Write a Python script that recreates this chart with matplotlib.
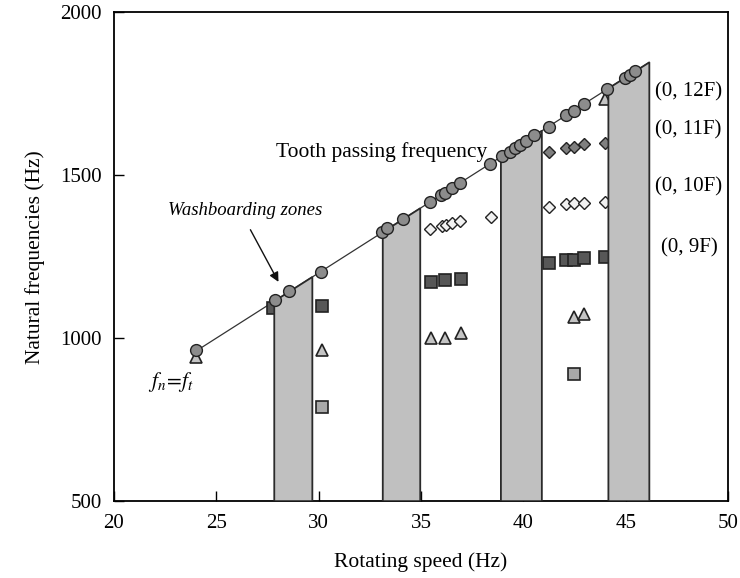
import matplotlib
matplotlib.use("Agg")
import matplotlib.pyplot as plt
from matplotlib.patches import Polygon

plt.rcParams['font.family'] = ['Liberation Serif', 'DejaVu Serif']
plt.rcParams['mathtext.fontset'] = 'stix'

# tooth passing frequency line (Hz vs Hz)
line_speed = [24.0, 46.15]
line_freq = [960, 1846]

# washboarding zones: speed ranges, bounded above by the tooth passing line
zone_start = [27.83, 33.13, 38.9, 44.15]
zone_end = [29.69, 34.96, 40.9, 46.15]
teeth = 40

# natural frequencies coinciding with the tooth passing frequency
circ_x = [24.03, 27.85, 28.55, 30.11, 33.08, 33.33, 34.14, 35.45, 35.95, 36.15, 36.5, 36.91,
          38.36, 38.97, 39.32, 39.57, 39.82, 40.13, 40.53, 41.23, 42.09, 42.49, 42.94,
          44.1, 44.96, 45.21, 45.46]
circ_y = [965, 1116, 1145, 1204, 1327, 1338, 1366, 1418, 1438, 1446, 1461, 1477,
          1534, 1559, 1572, 1583, 1593, 1605, 1622, 1649, 1683, 1698, 1717,
          1763, 1797, 1808, 1818]

# (0, 11F) family
dia_dark_x = [41.23, 42.09, 42.49, 42.94, 43.97]
dia_dark_y = [1571, 1582, 1585, 1594, 1600]

# (0, 10F) family
dia_light_x = [35.45, 36.0, 36.2, 36.5, 36.91, 38.4, 41.27, 42.09, 42.49, 42.94, 43.97]
dia_light_y = [1336, 1345, 1347, 1352, 1359, 1372, 1401, 1410, 1413, 1413, 1418]

# (0, 9F) family
sq_dark_x = [27.75, 30.14, 35.49, 36.17, 36.95, 41.27, 42.09, 42.49, 42.97, 43.97]
sq_dark_y = [1093, 1099, 1173, 1178, 1181, 1231, 1239, 1239, 1245, 1250]

tri_x = [24.03, 30.14, 35.49, 36.17, 36.93, 42.49, 42.97, 43.97]
tri_y = [943, 963, 999, 999, 1015, 1064, 1074, 1735]

sq_light_x = [30.14, 42.49]
sq_light_y = [789, 890]

family_labels = ['(0, 12F)', '(0, 11F)', '(0, 10F)', '(0, 9F)']
family_label_x = [46.45, 46.45, 46.45, 46.7]
family_label_y = [1755, 1640, 1463, 1278]

fig = plt.figure(figsize=(7.4, 5.78), dpi=100)
ax = fig.add_axes([0.154, 0.133, 0.830, 0.846])

ax.plot(line_speed, line_freq, color='#333333', lw=0.9, zorder=2)

edge = '#222222'
ax.plot(dia_dark_x, dia_dark_y, 'D', ms=6.5, mfc='#7f7f7f', mec=edge, mew=1.0, ls='none', zorder=3)
ax.plot(dia_light_x, dia_light_y, 'D', ms=6.5, mfc='#f2f2f2', mec=edge, mew=1.0, ls='none', zorder=3)
ax.plot(sq_dark_x, sq_dark_y, 's', ms=8, mfc='#575757', mec=edge, mew=1.2, ls='none', zorder=3)
ax.plot(tri_x, tri_y, '^', ms=8.5, mfc='#c4c4c4', mec=edge, mew=1.2, ls='none', zorder=3)
ax.plot(sq_light_x, sq_light_y, 's', ms=8, mfc='#a9a9a9', mec=edge, mew=1.2, ls='none', zorder=3)

for x0, x1 in zip(zone_start, zone_end):
    verts = [(x0, 500), (x0, teeth * x0), (x1, teeth * x1), (x1, 500)]
    ax.add_patch(Polygon(verts, closed=True, facecolor='#c0c0c0',
                         edgecolor='#2a2a2a', lw=1.3, zorder=4))

ax.plot(circ_x, circ_y, 'o', ms=8.5, mfc='#8c8c8c', mec=edge, mew=1.0, ls='none', zorder=5)

ax.set_xlim(20, 50)
ax.set_ylim(500, 2000)
ax.set_xticks([20, 25, 30, 35, 40, 45, 50])
ax.set_yticks([500, 1000, 1500, 2000])
ax.tick_params(direction='in', length=7, width=1, labelsize=15, pad=9)
for s in ax.spines.values():
    s.set_linewidth(1.3)

ax.set_xlabel('Rotating speed (Hz)', fontsize=15.5, labelpad=14)
ax.set_ylabel('Natural frequencies (Hz)', fontsize=15.5, labelpad=11)

ax.text(27.92, 1570, 'Tooth passing frequency', fontsize=15.5, va='center', ha='left')
ax.text(22.62, 1390, 'Washboarding zones', fontsize=13.5, style='italic', va='center')
ax.annotate('', xy=(28.1, 1165), xytext=(26.6, 1340),
            arrowprops=dict(arrowstyle='-|>', color='#111111', lw=1.0,
                            mutation_scale=14))
ax.text(21.65, 865, r'$f_n\!=\!f_t$', fontsize=15.5, va='center', ha='left')

for lab, xv, yv in zip(family_labels, family_label_x, family_label_y):
    ax.text(xv, yv, lab, fontsize=15, va='center', ha='left')

fig.savefig('out.png', dpi=100)
